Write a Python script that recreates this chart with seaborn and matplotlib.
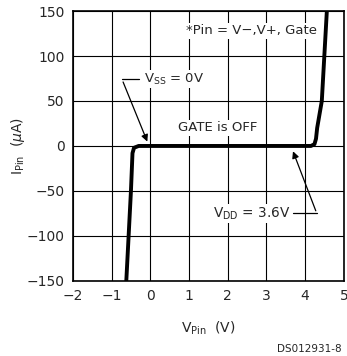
import numpy as np
import pandas as pd
import matplotlib
matplotlib.use("Agg")
import matplotlib.pyplot as plt
import seaborn as sns

# I-V curve of the pin
v_pin = [-0.62, -0.5, -0.46, -0.42, -0.3, 4.15, 4.24, 4.28, 4.31, 4.43, 4.56]
i_pin = [-150, -50, -8, -2, 0, 0, 2, 8, 20, 50, 150]

x_ticks = [-2, -1, 0, 1, 2, 3, 4, 5]
y_ticks = [-150, -100, -50, 0, 50, 100, 150]

df = pd.DataFrame({"V": v_pin, "I": i_pin})

sns.set_style("white")
plt.rcParams['font.family'] = ['DejaVu Sans']

fig = plt.figure(figsize=(3.47, 3.56), dpi=100)
ax = fig.add_axes([0.210, 0.211, 0.781, 0.758])

sns.lineplot(data=df, x="V", y="I", sort=False, color="black", linewidth=2.8, ax=ax)

ax.set_xlim(-2, 5)
ax.set_ylim(-150, 150)
ax.set_xticks(x_ticks)
ax.set_yticks(y_ticks)
ax.set_xticklabels([str(t).replace("-", "\u2212") for t in x_ticks], fontsize=10)
ax.set_yticklabels([str(t).replace("-", "\u2212") for t in y_ticks], fontsize=10)
ax.tick_params(length=0, pad=6)
ax.grid(True, color="black", linewidth=0.8)
for s in ax.spines.values():
    s.set_color("black")
    s.set_linewidth(1.2)

ax.set_xlabel(r"V$_{\mathrm{Pin}}$  (V)", fontsize=10, labelpad=12)
ax.set_ylabel(r"I$_{\mathrm{Pin}}$  ($\mu$A)", fontsize=10, labelpad=0)

# annotations
ax.text(4.3, 128, "*Pin = V\u2212,V+, Gate", fontsize=9.5, ha="right", va="center",
        bbox=dict(facecolor="white", edgecolor="none", pad=1))
ax.text(1.75, 20, "GATE is OFF", fontsize=9.5, ha="center", va="center",
        bbox=dict(facecolor="white", edgecolor="none", pad=1))
ax.text(-0.17, 74, r"V$_{\mathrm{SS}}$ = 0V", fontsize=9.5, ha="left", va="center",
        bbox=dict(facecolor="white", edgecolor="none", pad=1))
ax.plot([-0.73, -0.3], [74, 74], color="black", linewidth=0.9)
ax.annotate("", xy=(-0.05, 2), xytext=(-0.73, 74),
            arrowprops=dict(arrowstyle="-|>", color="black", lw=0.9, mutation_scale=10))

ax.text(3.62, -75, r"V$_{\mathrm{DD}}$ = 3.6V", fontsize=9.8, ha="right", va="center",
        bbox=dict(facecolor="white", edgecolor="none", pad=1))
ax.plot([3.68, 4.3], [-75, -75], color="black", linewidth=0.9)
ax.annotate("", xy=(3.66, -3), xytext=(4.3, -75),
            arrowprops=dict(arrowstyle="-|>", color="black", lw=0.9, mutation_scale=10))

fig.text(0.985, 0.005, "DS012931-8", fontsize=7.5, ha="right", va="bottom")

fig.savefig("out.png", dpi=100)
